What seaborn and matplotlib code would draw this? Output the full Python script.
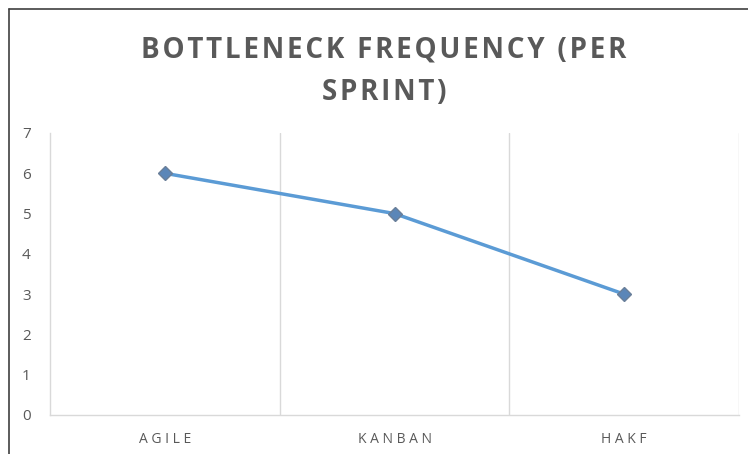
import matplotlib
matplotlib.use("Agg")
import matplotlib.pyplot as plt
import seaborn as sns
import pandas as pd
from matplotlib.lines import Line2D

categories = ["AGILE", "KANBAN", "HAKF"]
values = [6, 5, 3]
yticks = [0, 1, 2, 3, 4, 5, 6, 7]
title_lines = ["BOTTLENECK FREQUENCY (PER", "SPRINT)"]

sns.set_theme(style="white")
plt.rcParams['font.family'] = ['Open Sans', 'DejaVu Sans']

df = pd.DataFrame({"method": categories, "freq": values})

fig = plt.figure(figsize=(7.48, 4.54), dpi=100)
ax = fig.add_axes([50/748, 39/454, 689/748, 282/454])

sns.lineplot(data=df, x="method", y="freq", ax=ax, color="#5B9BD5", linewidth=2.5,
             marker="D", markersize=7, markerfacecolor="#5B86B8", markeredgecolor="#6A7F99",
             markeredgewidth=1, sort=False)

ax.set_xlim(-0.5, 2.5)
ax.set_ylim(0, 7)
ax.set_yticks(yticks)
ax.set_yticklabels([str(t) for t in yticks], color="#595959", fontsize=11)
ax.set_xticks(range(len(categories)))
ax.set_xticklabels([" ".join(c) for c in categories], color="#595959", fontsize=10)
ax.tick_params(axis="both", length=0, pad=12)
ax.tick_params(axis="y", pad=14)
ax.set_xlabel("")
ax.set_ylabel("")

for xv in [0.5, 1.5, 2.5]:
    ax.axvline(xv, color="#D9D9D9", linewidth=1, zorder=0)
for s in ["top", "right"]:
    ax.spines[s].set_visible(False)
for s in ["left", "bottom"]:
    ax.spines[s].set_color("#D9D9D9")
    ax.spines[s].set_linewidth(1)

hair = "\u200a"
spaced = "\n".join(hair.join(line) for line in title_lines)
fig.text(384/748, 1 - 71/454, spaced, ha="center", va="center",
         fontsize=20, fontweight="bold", color="#595959", linespacing=1.6)

# outer chart border (partially visible)
fig.add_artist(Line2D([9/748, 9/748], [0, 1 - 9/454], transform=fig.transFigure, color="#404040", linewidth=1.2))
fig.add_artist(Line2D([9/748, 1], [1 - 9/454, 1 - 9/454], transform=fig.transFigure, color="#404040", linewidth=1.2))

fig.savefig("out.png", dpi=100)
